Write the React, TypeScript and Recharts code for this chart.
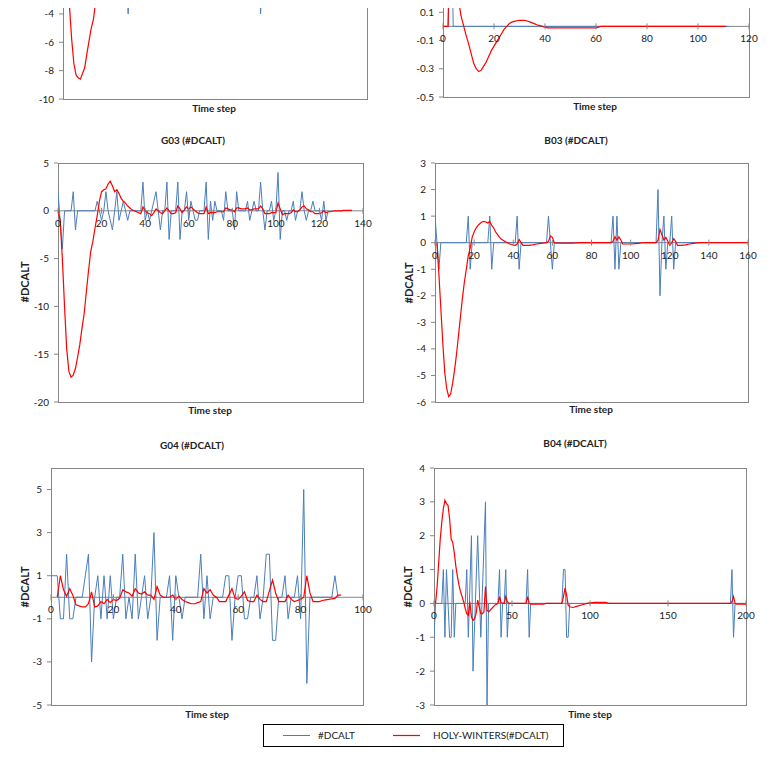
import React from 'react';
import { LineChart, Line, XAxis, YAxis, ReferenceArea, ReferenceLine, ReferenceDot } from 'recharts';

const BLUE = '#4A7EBB';
const RED = '#FF0000';
const AXIS = '#868686';
const FONT = 'Lato, "Open Sans", sans-serif';

// ---------- data ----------
// top-left panel (partially visible)
const topLeftBlue = [[0, 0], [29, 0], [30, -4], [31, 0], [90, 0], [91, -4], [92, 0], [130, 0]];
const topLeftRed = [[0, 0], [1, 0.5], [2, -1], [3, -3.5], [4, -5.8], [5, -7.5], [6, -8.3], [7, -8.5], [8, -8.6], [9, -8.2], [10, -7.8], [11, -6.8], [12, -5.9], [13, -5], [14, -4.4], [15, -3.2], [16, -2], [17, -1], [18, 0], [19, 1], [20, 1.5], [21, 1.2], [22, 0.8], [23, 0.4], [24, 0.2], [25, 0], [130, 0]];

// top-right panel (partially visible)
const topRightBlue = [[0, 0], [2, 0], [3, 1], [4, 0], [112, 0]];
const topRightRed = [[0, 0], [2, 0], [3, 0.9], [4, 0.7], [5, 0.45], [6, 0.2], [7, 0.08], [8, 0.01], [9, -0.06], [10, -0.12], [11, -0.19], [12, -0.26], [13, -0.3], [14, -0.32], [15, -0.31], [16, -0.28], [17, -0.25], [18, -0.21], [19, -0.17], [20, -0.14], [21, -0.11], [22, -0.08], [23, -0.05], [24, -0.02], [25, 0], [26, 0.02], [27, 0.03], [28, 0.035], [29, 0.04], [30, 0.042], [31, 0.043], [32, 0.042], [33, 0.038], [34, 0.032], [35, 0.025], [36, 0.018], [37, 0.01], [38, 0.005], [39, 0], [41, -0.01], [60, -0.01], [62, 0], [111, 0]];

// G03 (value per time step)
const g03Blue = [
  2, -1, -4, 0, 0, 0, 0, 2, -2, 0,
  0, 0, 0, 0, 0, 0, 0, 0, 1, 0,
  -1, 0, 2, 0, -1, -2, 0, 2, -1, 0,
  1, 0, -1, 0, 0, 0, 0, 0, 0, 3,
  -1, 0, -1, 0, 1, 2, 0, -2, 0, 0,
  3, -3, 0, 0, 0, 3, -3, 0, 0, 2,
  -1, 1, 0, -1, -1, 0, 0, 0, 3, -3,
  1, -1, 1, 0, 0, 0, -1, 2, 0, 0,
  0, -2, 2, 0, 0, 0, 0, 1, -1, 0,
  1, 0, 0, 3, 0, -2, 0, 0, 1, -1,
  0, 4, -3, 0, 0, -1, 0, 0, 1, -1,
  0, 0, 2, 0, -1, 0, 0, 1, 0, 0,
  0, -1, 1, -1, 0,
];
const g03Red = [
  0, -1, -5, -10, -14.5, -16.8, -17.4, -17.2, -16.5, -15.3,
  -14, -12.3, -10.8, -8.5, -6.3, -4.3, -3.2, -1.8, -0.5, 1,
  2, 2.2, 2.3, 2.8, 3.1, 2.6, 2, 2.2, 1.8, 1.3,
  1, 0.8, 0.5, 0.3, 0.1, 0, -0.1, -0.2, -0.3, 0.4,
  0, -0.2, -0.3, -0.5, -0.2, 0.2, 0, -0.2, -0.3, 0,
  0.3, 0, -0.3, -0.3, -0.2, 0.5, 0.2, -0.2, 0.1, 0.4,
  0.2, 0.4, 0.2, 0, -0.2, -0.3, -0.3, -0.3, 0.4, -0.3,
  -0.2, -0.2, -0.2, -0.1, -0.1, -0.1, -0.1, 0.3, 0.2, 0.1,
  0.1, -0.1, 0.3, 0.3, 0.2, 0.2, 0.2, 0.3, 0.1, 0.1,
  0.2, 0.2, 0.2, 0.5, 0.2, -0.3, -0.3, -0.3, -0.2, -0.2,
  -0.2, 0.8, 0.2, -0.4, -0.3, -0.3, -0.3, -0.2, 0.1, -0.1,
  -0.1, 0.1, 0.4, 0.5, 0.2, 0.1, -0.1, -0.1, -0.3, -0.3,
  -0.3, -0.2, 0, -0.2, -0.1, -0.1, -0.05, 0, 0, 0,
  0, 0.05, 0.05, 0.05, 0.05, 0.05,
];

// B03 ([time step, value])
const b03Blue = [[0, 1], [1, 0], [2, -1], [3, 0], [16, 0], [17, 1], [18, -1], [19, 0], [27, 0], [28, 1], [29, -1], [30, 0], [41, 0], [42, 1], [43, -1], [44, 0], [57, 0], [58, 1], [59, 0], [60, -1], [61, 0], [90, 0], [91, 1], [92, -1], [93, 1], [94, -1], [95, 0], [113, 0], [114, 2], [115, -2], [116, 0], [117, 1], [118, -1], [119, 0], [120, 0], [121, 1], [122, -1], [123, 0], [135, 0]];
const b03Red = [[1, 0], [2, -1.2], [3, -2.5], [4, -3.8], [5, -4.9], [6, -5.5], [7, -5.8], [8, -5.7], [9, -5.3], [10, -4.8], [11, -4.2], [12, -3.5], [13, -2.8], [14, -2.1], [15, -1.5], [16, -1], [17, -0.5], [18, -0.2], [19, 0.2], [20, 0.4], [21, 0.55], [22, 0.65], [23, 0.72], [24, 0.78], [25, 0.8], [26, 0.78], [27, 0.74], [28, 0.8], [29, 0.65], [30, 0.55], [31, 0.4], [32, 0.3], [33, 0.2], [34, 0.13], [35, 0.08], [36, 0.03], [37, 0], [38, -0.04], [39, -0.07], [40, -0.09], [41, -0.1], [42, -0.05], [43, 0.12], [44, 0], [45, -0.1], [48, -0.1], [50, -0.08], [52, -0.05], [54, -0.03], [56, -0.01], [57, 0], [58, 0.05], [59, 0.25], [60, 0.2], [61, 0], [62, -0.02], [70, -0.02], [75, 0], [90, 0], [91, 0.05], [92, 0.22], [93, 0.1], [94, 0.22], [95, 0.1], [96, -0.05], [100, -0.05], [104, -0.03], [106, 0], [113, 0], [114, 0.1], [115, 0.5], [116, 0.3], [117, 0.1], [118, 0.2], [119, 0.05], [120, -0.1], [121, 0], [122, 0.15], [123, 0.05], [124, -0.1], [126, -0.1], [128, -0.08], [130, -0.05], [132, -0.03], [134, -0.01], [136, 0], [160, 0]];

// G04 (value per time step)
const g04Blue = [
  1, 1, 1, -1, -1, 2, -1, -1, 0, 0,
  0, 1, 2, -3, 0, 1, -1, 1, -1, 1,
  -1, 0, 0, 2, -1, 0, -1, 2, -1, 0,
  1, -1, 0, 3, -2, 0, 0, 0, 1, -2,
  1, 0, -1, 0, 0, 0, 0, 0, 2, -1,
  1, -1, 0, 0, 0, 0, 1, 1, -2, 0,
  1, 1, -1, -1, 0, 0, 1, -1, 0, 2,
  2, -2, -2, 0, 0, 1, -1, 0, 0, 1,
  -1, 5, -4, 0, 0, 0, 0, 0, 0, 0,
  0, 1, 0,
];
const g04Red = [
  null, null, 0, 1, 0.35, 0.05, 0.4, 0.1, -0.35, -0.4,
  -0.45, -0.45, -0.3, 0.25, -0.45, -0.4, -0.2, -0.3, -0.1, -0.25,
  -0.1, -0.15, -0.05, 0.35, 0.25, 0.2, 0.05, 0.4, 0.2, 0.15,
  0.25, 0.1, 0.1, -0.1, 0.5, 0.1, 0, 0, 0, 0.1,
  -0.1, 0.05, -0.1, -0.2, -0.25, -0.3, -0.3, -0.25, -0.2, 0.4,
  0.2, 0.35, 0.1, 0, -0.2, -0.2, -0.2, 0.1, 0.4, -0.05,
  -0.1, 0.05, 0.25, -0.15, -0.2, -0.2, 0.1, -0.1, -0.2, -0.2,
  0.3, 0.8, 0.2, -0.2, -0.2, -0.2, 0.1, -0.1, -0.2, -0.15,
  -0.1, 0, 1, 0.2, -0.2, -0.2, -0.2, -0.15, -0.12, -0.1,
  -0.07, -0.05, 0.1, 0.1,
];

// B04 ([time step, value])
const b04Blue = [[0, -1], [1, 0], [5, 0], [6, 1], [7, -1], [8, 1], [9, 0], [10, -1], [11, -1], [12, 1], [13, -1], [14, 0], [20, 0], [21, 1], [22, -1], [24, 2], [25, -2], [28, 2], [30, -1], [33, 3], [34, -3], [35, 0], [41, 0], [42, 1], [43, -1], [44, 0], [45, 0], [46, 1], [47, -1], [48, 0], [59, 0], [60, 1], [61, -1], [62, 0], [82, 0], [83, 1], [84, 1], [85, -1], [86, -1], [87, 0], [190, 0], [191, 1], [192, -1], [193, 0], [200, 0]];
const b04Red = [[1, 0], [2, 0.5], [3, 1.2], [4, 1.9], [5, 2.4], [6, 2.8], [7, 3.05], [8, 2.95], [9, 2.9], [10, 2.5], [11, 1.9], [12, 1.8], [13, 1.5], [14, 1.1], [15, 0.8], [16, 0.55], [17, 0.35], [18, 0.2], [19, 0.05], [20, -0.15], [21, -0.3], [22, -0.35], [23, 0.05], [24, -0.4], [25, -0.5], [26, -0.45], [27, -0.3], [28, 0.1], [29, -0.1], [30, -0.3], [31, -0.3], [32, -0.25], [33, 0.5], [34, -0.2], [35, -0.25], [37, -0.15], [39, -0.05], [41, 0], [42, 0.2], [43, 0.02], [45, 0], [46, 0.2], [47, 0.05], [48, 0], [59, 0], [60, 0.2], [61, 0], [62, -0.02], [70, -0.02], [72, 0], [82, 0], [83, 0.2], [84, 0.45], [85, 0.25], [86, -0.05], [87, -0.1], [89, -0.12], [92, -0.08], [95, -0.04], [98, 0], [100, 0.02], [103, 0.03], [110, 0.03], [112, 0], [190, 0], [191, 0.05], [192, 0.2], [193, 0], [194, -0.02], [200, -0.02]];

// axis ticks (only the ones the picture shows)
const ticksXTopLeft: number[] = [];
const ticksX140 = [0, 20, 40, 60, 80, 100, 120, 140];
const ticksX120 = [0, 20, 40, 60, 80, 100, 120];
const ticksX160 = [0, 20, 40, 60, 80, 100, 120, 140, 160];
const ticksX100 = [0, 20, 40, 60, 80, 100];
const ticksX200 = [0, 50, 100, 150, 200];
const ticksYTopLeft = [-10, -8, -6, -4];
const ticksYTopRight = [-0.5, -0.3, -0.1, 0.1];
const ticksYG03 = [-20, -15, -10, -5, 0, 5];
const ticksYB03 = [-6, -5, -4, -3, -2, -1, 0, 1, 2, 3];
const ticksYG04 = [-5, -3, -1, 1, 3, 5];
const ticksYB04 = [-3, -2, -1, 0, 1, 2, 3, 4];

const LABEL_Y = '#DCALT';
const LABEL_X = 'Time step';
const LEGEND_BLUE = '#DCALT';
const LEGEND_RED = 'HOLY-WINTERS(#DCALT)';

type Pt = { t: number; v: number | null };
const fromValues = (vals: (number | null)[]): Pt[] => vals.map((v, t) => ({ t, v }));
const fromPairs = (pairs: number[][]): Pt[] => pairs.map(([t, v]) => ({ t, v }));

type Cfg = {
  title?: string;
  L: number; T: number; W: number; H: number;
  xDomain: [number, number]; xTicks: number[];
  yDomain: [number, number]; yTicks: number[];
  blue: Pt[]; red: Pt[];
  yLabelX: number; yLabelY: number;
  xLabelX: number; xLabelY: number;
  titleX?: number; titleY?: number;
};

const panels: Cfg[] = [
  {
    L: 63, T: -128, W: 304, H: 227, xDomain: [0, 140], xTicks: ticksXTopLeft,
    yDomain: [-10, 6], yTicks: ticksYTopLeft, blue: fromPairs(topLeftBlue), red: fromPairs(topLeftRed),
    yLabelX: 31, yLabelY: -13, xLabelX: 214, xLabelY: 108,
  },
  {
    L: 443, T: -129, W: 306, H: 226, xDomain: [0, 120], xTicks: ticksX120,
    yDomain: [-0.5, 1.1], yTicks: ticksYTopRight, blue: fromPairs(topRightBlue), red: fromPairs(topRightRed),
    yLabelX: 408, yLabelY: -14, xLabelX: 595, xLabelY: 106,
  },
  {
    title: 'G03 (#DCALT)', titleX: 193, titleY: 140,
    L: 58, T: 163, W: 305, H: 239, xDomain: [0, 140], xTicks: ticksX140,
    yDomain: [-20, 5], yTicks: ticksYG03, blue: fromValues(g03Blue), red: fromValues(g03Red),
    yLabelX: 25, yLabelY: 282, xLabelX: 210, xLabelY: 410,
  },
  {
    title: 'B03 (#DCALT)', titleX: 576, titleY: 140,
    L: 435, T: 163, W: 313, H: 239, xDomain: [0, 160], xTicks: ticksX160,
    yDomain: [-6, 3], yTicks: ticksYB03, blue: fromPairs(b03Blue), red: fromPairs(b03Red),
    yLabelX: 409, yLabelY: 283, xLabelX: 591, xLabelY: 409,
  },
  {
    title: 'G04 (#DCALT)', titleX: 192, titleY: 445,
    L: 51, T: 468, W: 312, H: 237, xDomain: [0, 100], xTicks: ticksX100,
    yDomain: [-5, 6], yTicks: ticksYG04, blue: fromValues(g04Blue), red: fromValues(g04Red),
    yLabelX: 25, yLabelY: 587, xLabelX: 207, xLabelY: 714,
  },
  {
    title: 'B04 (#DCALT)', titleX: 575, titleY: 443,
    L: 434, T: 468, W: 312, H: 237, xDomain: [0, 200], xTicks: ticksX200,
    yDomain: [-3, 4], yTicks: ticksYB04, blue: fromPairs(b04Blue), red: fromPairs(b04Red),
    yLabelX: 408, yLabelY: 587, xLabelX: 590, xLabelY: 714,
  },
];

const Y_AXIS_W = 40;
const MARGIN = { top: 10, right: 10, bottom: 10, left: 0 };

const makeTick = (label: number) => (props: any) => {
  const { cx, cy } = props;
  if (cx == null || cy == null) return <g />;
  return (
    <g>
      <line x1={cx} x2={cx} y1={cy - 3} y2={cy + 3} stroke={AXIS} strokeWidth={1} />
      <text x={cx} y={cy + 16} textAnchor="middle" fontSize={10} fill="#222" fontFamily={FONT}>
        {label}
      </text>
    </g>
  );
};

const Panel: React.FC<{ cfg: Cfg }> = ({ cfg }) => {
  const width = cfg.W + Y_AXIS_W + MARGIN.right;
  const height = cfg.H + MARGIN.top + MARGIN.bottom;
  return (
    <>
      <div style={{ position: 'absolute', left: cfg.L - Y_AXIS_W, top: cfg.T - MARGIN.top }}>
        <LineChart width={width} height={height} margin={MARGIN}>
          <XAxis type="number" dataKey="t" domain={cfg.xDomain} hide allowDataOverflow />
          <YAxis
            type="number"
            domain={cfg.yDomain}
            ticks={cfg.yTicks}
            interval={0}
            allowDataOverflow
            width={Y_AXIS_W}
            axisLine={false}
            tickLine={{ stroke: AXIS }}
            tickSize={4}
            tickMargin={5}
            tick={{ fontSize: 10, fill: '#222', fontFamily: FONT }}
          />
          <ReferenceArea
            x1={cfg.xDomain[0]}
            x2={cfg.xDomain[1]}
            y1={cfg.yDomain[0]}
            y2={cfg.yDomain[1]}
            fill="none"
            fillOpacity={0}
            stroke={AXIS}
            strokeWidth={1}
            shapeRendering="crispEdges"
          />
          <ReferenceLine y={0} stroke={AXIS} strokeWidth={1} />
          {cfg.xTicks.map((t) => (
            <ReferenceDot key={t} x={t} y={0} r={1} shape={makeTick(t)} />
          ))}
          <Line
            data={cfg.blue}
            dataKey="v"
            type="linear"
            stroke={BLUE}
            strokeWidth={1}
            dot={false}
            activeDot={false}
            isAnimationActive={false}
          />
          <Line
            data={cfg.red}
            dataKey="v"
            type="linear"
            stroke={RED}
            strokeWidth={1.2}
            dot={false}
            activeDot={false}
            isAnimationActive={false}
          />
        </LineChart>
      </div>
      {cfg.title && (
        <div
          style={{
            position: 'absolute', left: cfg.titleX, top: (cfg.titleY as number) - 7,
            transform: 'translateX(-50%)', whiteSpace: 'nowrap', fontWeight: 700, fontSize: 10,
            lineHeight: '14px', color: '#222',
          }}
        >
          {cfg.title}
        </div>
      )}
      <div
        style={{
          position: 'absolute', left: cfg.xLabelX, top: cfg.xLabelY - 7,
          transform: 'translateX(-50%)', whiteSpace: 'nowrap', fontWeight: 700, fontSize: 10,
          lineHeight: '14px', color: '#222',
        }}
      >
        {LABEL_X}
      </div>
      <div
        style={{
          position: 'absolute', left: cfg.yLabelX, top: cfg.yLabelY,
          transform: 'translate(-50%, -50%) rotate(-90deg)', whiteSpace: 'nowrap', fontWeight: 700,
          fontSize: 11, lineHeight: '14px', color: '#222',
        }}
      >
        {LABEL_Y}
      </div>
    </>
  );
};

const Legend: React.FC = () => (
  <svg width={301} height={23} style={{ position: 'absolute', left: 263, top: 724 }}>
    <rect x={0.5} y={0.5} width={300} height={22} fill="#fff" stroke="#000" strokeWidth={1} />
    <line x1={20} x2={47} y1={11.5} y2={11.5} stroke={BLUE} strokeWidth={1} />
    <text x={55} y={15} fontSize={10} fill="#222" fontFamily={FONT}>{LEGEND_BLUE}</text>
    <line x1={130} x2={157} y1={11.5} y2={11.5} stroke={RED} strokeWidth={1.2} />
    <text x={170} y={15} fontSize={10} fill="#222" fontFamily={FONT}>{LEGEND_RED}</text>
  </svg>
);

export default function App() {
  return (
    <div
      style={{
        position: 'relative', width: 773, height: 768, margin: -8, overflow: 'hidden',
        background: '#fff', fontFamily: FONT,
      }}
    >
      {panels.map((cfg, i) => (
        <Panel key={i} cfg={cfg} />
      ))}
      <Legend />
    </div>
  );
}
